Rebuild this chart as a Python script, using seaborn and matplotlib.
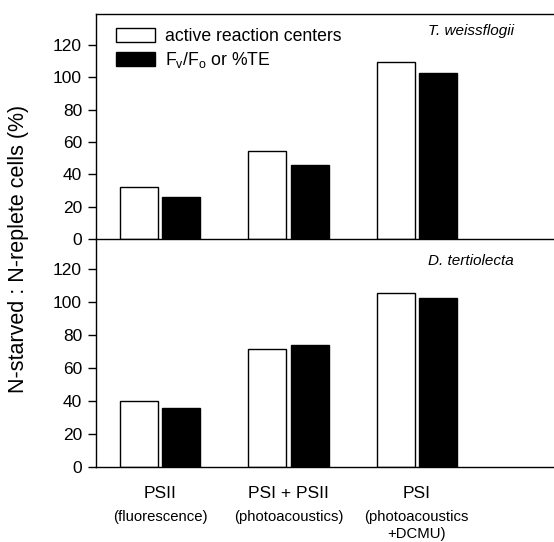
import matplotlib
matplotlib.use("Agg")
import matplotlib.pyplot as plt
import seaborn as sns
import pandas as pd
from matplotlib.transforms import blended_transform_factory

categories = ["PSII", "PSI + PSII", "PSI"]
subtitles = ["(fluorescence)", "(photoacoustics)", "(photoacoustics\n+DCMU)"]
series = ["active reaction centers", "F$_\\mathrm{v}$/F$_\\mathrm{o}$ or %TE"]
tw_active = [32, 54.5, 109.5]
tw_fvfo = [26, 45.6, 102.3]
dt_active = [40, 71.5, 105.4]
dt_fvfo = [35.6, 74, 102.4]
yticks = [0, 20, 40, 60, 80, 100, 120]

def frame(a, b):
    rows = []
    for i, c in enumerate(categories):
        rows.append({"cat": c, "series": series[0], "val": a[i]})
        rows.append({"cat": c, "series": series[1], "val": b[i]})
    return pd.DataFrame(rows)

sns.set_style("ticks")
plt.rcParams["font.family"] = ["Liberation Sans", "DejaVu Sans"]
plt.rcParams["mathtext.fontset"] = "custom"
plt.rcParams["mathtext.rm"] = "Liberation Sans"
plt.rcParams["mathtext.it"] = "Liberation Sans:italic"
for k in ["text.color", "axes.labelcolor", "xtick.color", "ytick.color", "axes.edgecolor"]:
    plt.rcParams[k] = "black"

fig = plt.figure(figsize=(5.54, 5.42), dpi=100)
ax1 = fig.add_axes([96/554, 1-239/542, 458/554, 225/542])
ax2 = fig.add_axes([96/554, 1-466.7/542, 458/554, 227.7/542])
ax2.patch.set_alpha(0)

pal = {series[0]: "white", series[1]: "black"}
for ax, a, b, name in [(ax1, tw_active, tw_fvfo, "T. weissflogii"),
                       (ax2, dt_active, dt_fvfo, "D. tertiolecta")]:
    sns.barplot(data=frame(a, b), x="cat", y="val", hue="series", palette=pal,
                width=0.66, gap=0.1, edgecolor="black", linewidth=1, ax=ax,
                legend=(ax is ax1))
    ax.set_xlim(-0.5, 3.07)
    ax.set_yticks(yticks)
    ax.tick_params(axis="y", direction="out", length=6, width=1, labelsize=12.5, pad=4)
    ax.tick_params(axis="x", length=0)
    ax.set_xlabel("")
    ax.set_ylabel("")
    ax.spines["right"].set_visible(False)
    for s in ["left", "bottom", "top"]:
        ax.spines[s].set_linewidth(1)
        ax.spines[s].set_color("black")
    ax.text(0.912, 0.925 if ax is ax1 else 0.905, name, transform=ax.transAxes,
            ha="right", va="center", fontsize=11, style="italic")

ax2.spines["top"].set_visible(False)
ax1.set_xticklabels([])
ax2.set_xticklabels([])
ax1.set_ylim(0, 139)
ax2.set_ylim(0, 138.4)

leg = ax1.legend(loc="upper left", bbox_to_anchor=(0.028, 0.97), frameon=False,
                 fontsize=12.7, handlelength=2.2, handleheight=0.85,
                 handletextpad=0.6, labelspacing=0.3, borderaxespad=0)

tr = blended_transform_factory(ax2.transData, fig.transFigure)
for i, (c, s) in enumerate(zip(categories, subtitles)):
    ax2.text(i, 1-493/542, c, transform=tr, ha="center", va="center", fontsize=12.5)
    ax2.text(i, 1-510/542, s, transform=tr, ha="center", va="top", fontsize=10.7,
             linespacing=1.25)

fig.text(19/554, 1-249/542, "N-starved : N-replete cells (%)", rotation=90,
         ha="center", va="center", fontsize=15.5)

fig.savefig("out.png", dpi=100)
